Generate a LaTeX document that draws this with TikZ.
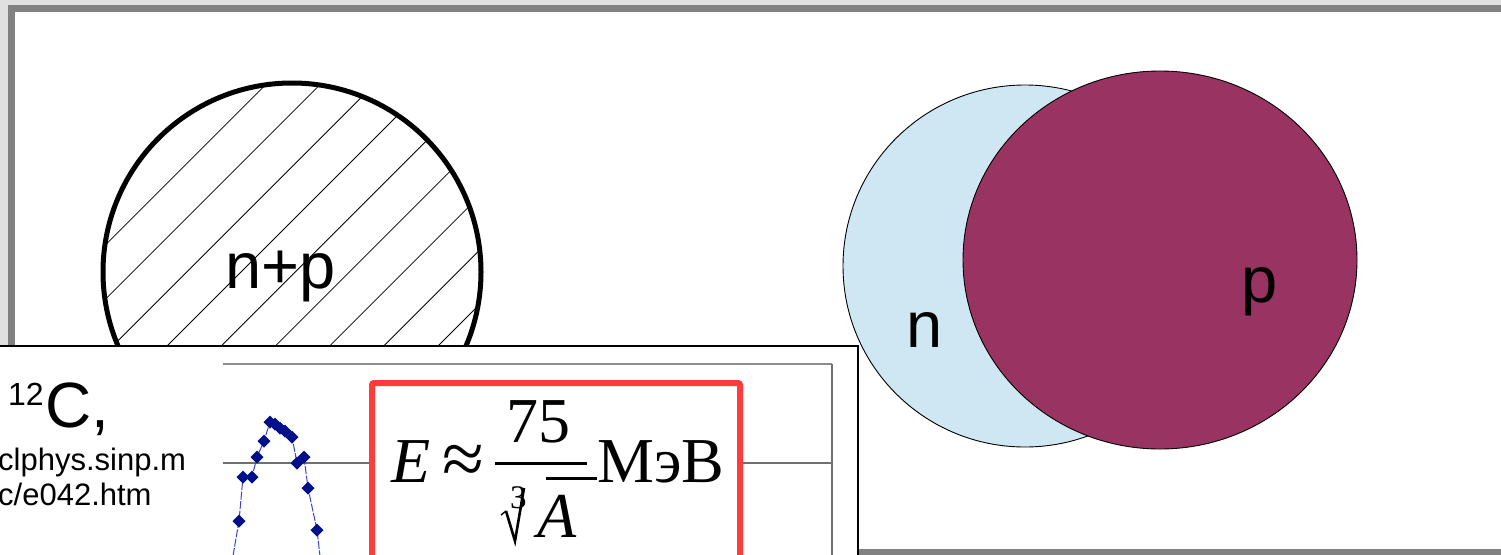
\documentclass[tikz,border=0pt]{standalone}
\usepackage{fontspec}
\setmainfont{Liberation Serif}
\newfontfamily\arialf{Liberation Sans}
\newfontfamily\timesf{Liberation Serif}
\definecolor{pageGray}{HTML}{E0E0E0}
\definecolor{frameGray}{HTML}{818181}
\definecolor{nBlue}{HTML}{CFE6F3}
\definecolor{pPurple}{HTML}{983362}
\definecolor{boxRed}{HTML}{FF3B3B}
\definecolor{navyPt}{HTML}{00108A}
\definecolor{lineBlue}{HTML}{3A44C8}
\definecolor{gridGray}{HTML}{707070}
\begin{document}
\begin{tikzpicture}[x=1pt,y=-1pt,
  bigsans/.style={font=\arialf\fontsize{65}{78}\selectfont, inner sep=0pt, anchor=base west},
  smallsans/.style={font=\arialf\fontsize{31}{37}\selectfont, inner sep=0pt, anchor=base west},
  formula/.style={font=\timesf\fontsize{64}{76}\selectfont, inner sep=0pt, anchor=base west},
  gridline/.style={draw=gridGray, line width=1.2pt},
  plotline/.style={draw=lineBlue, line width=1pt, dash pattern=on 8pt off 1.5pt},
  ball/.style={draw=black, line width=0.9pt}]
\useasboundingbox (0,0) rectangle (1501,554);
\clip (0,0) rectangle (1501,554);
% page background and slide frame
\fill[pageGray] (0,0) rectangle (1501,554);
\fill[frameGray] (8,5) rectangle (1520,560);
\fill[white] (15,12) rectangle (1520,549);
% hatched circle n+p
\begin{scope}
  \clip (292,272) circle [radius=189];
  \foreach \c in {350.4,404.6,458.8,513,567.2,621.4,675.6,729.8,784}
    \draw[black, line width=0.8pt] (\c-480,480) -- (\c-60,60);
\end{scope}
\draw[black, line width=5pt] (292,272) circle [radius=189];
\node[bigsans] (np) at (225.5,288) {n+p};
% neutron / proton ellipses
\filldraw[ball, fill=nBlue] (1025,266) ellipse [x radius=182, y radius=181];
\filldraw[ball, fill=pPurple] (1160,260) ellipse [x radius=197, y radius=189];
\node[bigsans] (n) at (906,347) {n};
\node[bigsans] (p) at (1241,302) {p};
% inset picture
\filldraw[fill=white, draw=black, line width=1.3pt] (-5,346) rectangle (858,600);
\draw[draw=gridGray!80, line width=1.8pt] (223,364) -- (832,364);
\draw[gridline] (832,364) -- (832,560);
\draw[gridline] (223,463) -- (832,463);
\node[font=\arialf\fontsize{32}{38}\selectfont, inner sep=0pt, anchor=base west] (twelve) at (8,405) {12};
\node[font=\arialf\fontsize{64}{76}\selectfont, inner sep=0pt, anchor=base west] (carbon) at (45,427) {C,};
\node[smallsans] (url1) at (-2,470) {clphys.sinp.m};
\node[smallsans] (url2) at (-2,505) {c/e042.htm};
% plotted curve
\draw[plotline] (233,556) -- (239,521) -- (243,477) -- (252,477) -- (257,457) -- (264,441)
  -- (270,422) -- (275,424) -- (280,428) -- (285,431) -- (292,437) -- (297,463)
  -- (304,457) -- (308,488) -- (317,530) -- (320,556);
\foreach \px/\py in {239/521,243/477,252/477,257/457,264/441,270/422,275/424,280/428,285/431,292/437,297/463,304/457,308/488,317/530}
  \fill[navyPt] (\px-6.5,\py) -- (\px,\py-6.5) -- (\px+6.5,\py) -- (\px,\py+6.5) -- cycle;
% formula box
\filldraw[fill=white, draw=boxRed, line width=6pt, rounded corners=2pt] (372,383) rectangle (740,620);
\node[formula, font=\timesf\itshape\fontsize{64}{76}\selectfont] (E) at (391,482) {E};
\node[formula, font=\timesf\fontsize{76}{90}\selectfont] (approx) at (442,484) {≈};
\draw[black, line width=3pt] (495,463.5) -- (587,463.5);
\node[formula] (num) at (506,442) {75};
\draw[black, line width=1.4pt, line join=miter] (501,515) -- (506,511);
\draw[black, line width=2.6pt, line join=miter] (506,511) -- (515,541) -- (524,488);
\node[formula, font=\timesf\fontsize{33}{40}\selectfont] (idx) at (510,508) {3};
\draw[black, line width=3pt] (546,478.5) -- (597,478.5);
\node[formula, font=\timesf\itshape\fontsize{64}{76}\selectfont] (A) at (537,537) {A};
\node[formula] (unit) at (597,482) {МэВ};
\end{tikzpicture}
\end{document}
